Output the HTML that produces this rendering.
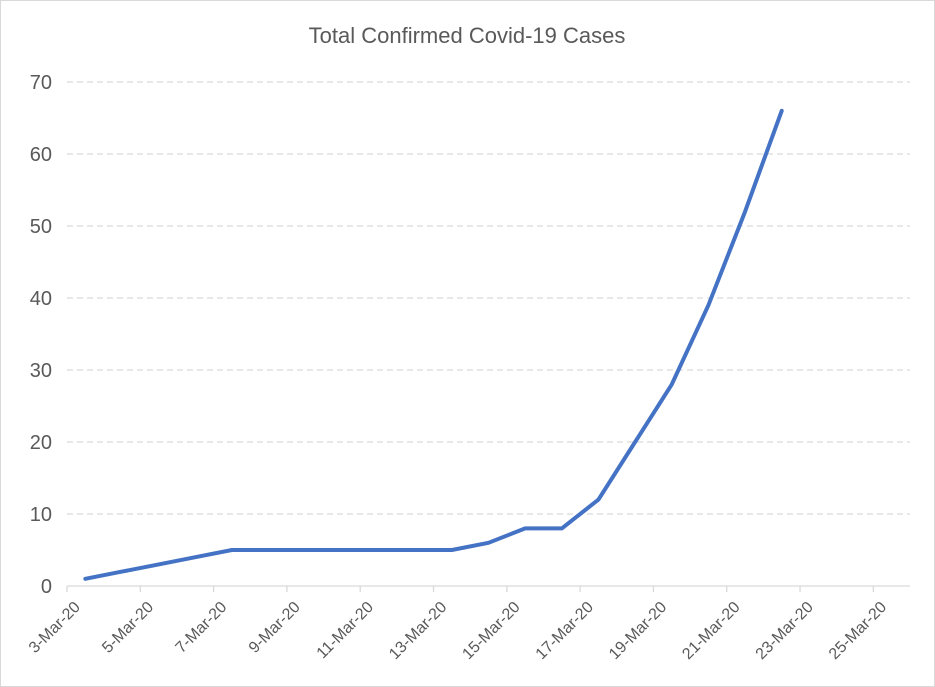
<!DOCTYPE html>
<html><head><meta charset="utf-8"><style>
body{margin:0;background:#fff;}
svg{display:block;font-family:"Liberation Sans",Calibri,sans-serif;}
</style></head><body>
<svg id="chart" width="935" height="687" viewBox="0 0 935 687">
<rect x="0.5" y="0.5" width="934" height="686" fill="#fff" stroke="#d9d9d9"/>
<text x="467" y="43" text-anchor="middle" font-size="22" fill="#595959">Total Confirmed Covid-19 Cases</text>
<g id="grid"></g><g id="yticks"></g><g id="xticks"></g><g id="series"></g>
</svg>
<script>
const categories=["3-Mar-20","4-Mar-20","5-Mar-20","6-Mar-20","7-Mar-20","8-Mar-20","9-Mar-20","10-Mar-20","11-Mar-20","12-Mar-20","13-Mar-20","14-Mar-20","15-Mar-20","16-Mar-20","17-Mar-20","18-Mar-20","19-Mar-20","20-Mar-20","21-Mar-20","22-Mar-20","23-Mar-20","24-Mar-20","25-Mar-20"];
const cases=[1,2,3,4,5,5,5,5,5,5,5,6,8,8,12,20,28,39,52,66];
const yTicks=[0,10,20,30,40,50,60,70];
const xTickLabels=["3-Mar-20","5-Mar-20","7-Mar-20","9-Mar-20","11-Mar-20","13-Mar-20","15-Mar-20","17-Mar-20","19-Mar-20","21-Mar-20","23-Mar-20","25-Mar-20"];
const NS="http://www.w3.org/2000/svg";
const x0=67,x1=910,y0=586,y1=82,yMax=70;
const day=(x1-x0)/categories.length;
const xPos=i=>x0+(i+0.5)*day;
const xEdge=i=>x0+i*day;
const yPos=v=>y0-(v/yMax)*(y0-y1);
function mk(t,a,p){const e=document.createElementNS(NS,t);for(const k in a)e.setAttribute(k,a[k]);p.appendChild(e);return e;}
const grid=document.getElementById('grid'),yt=document.getElementById('yticks'),xt=document.getElementById('xticks'),se=document.getElementById('series');
yTicks.forEach(v=>{
 if(v>0){const g=mk('line',{x1:x0,x2:x1,y1:yPos(v),y2:yPos(v),stroke:'#d9d9d9','stroke-width':1.3,'stroke-dasharray':'6 4'},grid);
 
 }
 const t=mk('text',{x:52,y:yPos(v)+7,'text-anchor':'end','font-size':20,fill:'#595959'},yt);
 t.textContent=v;
 
 
});
const ax=mk('line',{x1:x0,x2:x1,y1:y0,y2:y0,stroke:'#d9d9d9','stroke-width':1.3},grid);


for(let i=0;i<=categories.length;i+=2){
 const tk=mk('line',{x1:xEdge(i),x2:xEdge(i),y1:y0,y2:y0+6,stroke:'#d9d9d9','stroke-width':1.3},grid);
 
 
}
xTickLabels.forEach(lab=>{
 const i=categories.indexOf(lab);const x=xEdge(i)+14,y=y0+22;
 const t=mk('text',{x:x,y:y,'text-anchor':'end','font-size':16,fill:'#595959',transform:`rotate(-45 ${x} ${y})`},xt);
 t.textContent=lab;
 
 
});
const pts=cases.map((v,i)=>xPos(i)+','+yPos(v)).join(' ');
const pl=mk('polyline',{points:pts,fill:'none',stroke:'#4472C4','stroke-width':4,'stroke-linejoin':'round','stroke-linecap':'round'},se);


</script>
</body></html>
